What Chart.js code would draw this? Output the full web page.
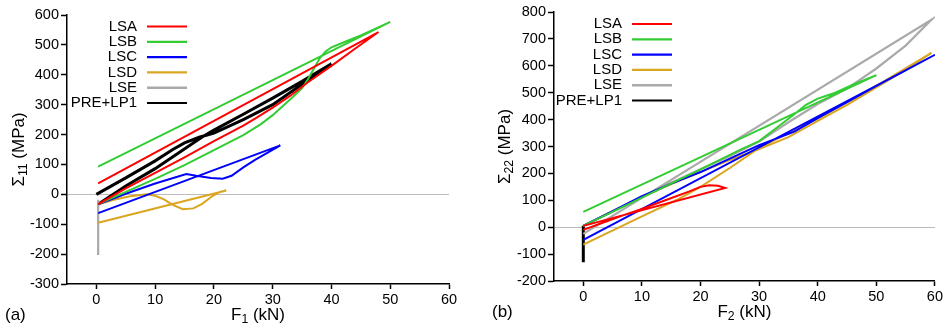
<!DOCTYPE html>
<html lang="en">
<head>
    <meta charset="UTF-8">
    <title>Sigma vs F</title>
    <script src="https://cdn.jsdelivr.net/npm/chart.js"></script>
    <style>
        body { margin: 0; background: #fff; }
        #wrap { position: relative; width: 945px; height: 330px; }
        canvas { position: absolute; top: 0; }
        #chartA { left: 0; }
        #chartB { left: 475px; }
    </style>
</head>
<body>
<div id="wrap">
    <canvas id="chartA" width="470" height="330"></canvas>
    <canvas id="chartB" width="470" height="330"></canvas>
</div>

<script type="text/javascript">
    // series names (shared by both panels)
    const seriesNames = ['LSA', 'LSB', 'LSC', 'LSD', 'LSE', 'PRE+LP1'];

    // tick labels
    const xTicks = [0, 10, 20, 30, 40, 50, 60];
    const yTicksA = [-300, -200, -100, 0, 100, 200, 300, 400, 500, 600];
    const yTicksB = [-200, -100, 0, 100, 200, 300, 400, 500, 600, 700, 800];

    // panel (a): F1 (kN) vs Sigma11 (MPa)
    const lsaF1 = [0.3, 5, 10, 15, 20, 25, 27, 30, 33, 36, 40, 44, 48, 0.3];
    const lsaS11 = [-33, 20, 72, 124, 178, 230, 253, 290, 330, 375, 430, 487, 543, 37];
    const lsbF1 = [0.3, 5, 10, 15, 20, 25, 28, 30, 33, 35, 36, 37, 38, 39, 40, 42, 45, 50, 0.3];
    const lsbS11 = [-33, 8, 52, 98, 148, 198, 235, 265, 318, 355, 385, 420, 455, 478, 492, 508, 532, 577, 93];
    const lscF1 = [0.3, 5, 10, 15.3, 17, 19.5, 21.5, 23, 25, 27, 29, 31.3, 0.3];
    const lscS11 = [-33, 2, 36, 68, 62, 55, 52, 62, 90, 115, 138, 164, -63];
    const lsdF1 = [0.3, 3, 5.5, 8.5, 10, 11.5, 13, 14.7, 16.5, 18, 19.8, 21, 22.1, 0.3];
    const lsdS11 = [-33, -18, -7, 0, -5, -17, -35, -50, -47, -32, -5, 8, 13, -95];
    const lseF1 = [0.3, 0.3];
    const lseS11 = [-18, -203];
    const preF1 = [0, 5, 10, 13, 15, 17.5, 20, 25, 30, 35, 40, 35, 30, 25, 20, 18, 10, 5, 0.3];
    const preS11 = [0, 55, 112, 150, 172, 191, 205, 250, 300, 368, 437, 378, 322, 268, 215, 192, 86, 28, -33];

    // panel (b): F2 (kN) vs Sigma22 (MPa)
    const lsaF2 = [0, 4, 7, 10, 14, 18, 20, 21.5, 23, 24.2, 0];
    const lsaS22 = [-10, 22, 46, 68, 100, 132, 150, 156, 154, 146, 5];
    const lsbF2 = [0, 10, 20, 27, 30, 33, 36, 38, 40, 43, 46, 50, 0];
    const lsbS22 = [5, 110, 215, 290, 320, 370, 420, 455, 478, 500, 530, 565, 57];
    const lscF2 = [0, 5, 10, 15, 20, 25, 30, 33, 36, 40, 45, 50, 55, 60, 0];
    const lscS22 = [5, 60, 115, 162, 205, 255, 305, 330, 355, 405, 465, 525, 583, 641, -47];
    const lsdF2 = [0, 5, 10, 15, 20, 25, 30, 35, 40, 45, 50, 55, 59.4, 50, 40, 35, 30, 25, 20, 16, 10, 0];
    const lsdS22 = [5, 60, 112, 160, 205, 250, 290, 335, 395, 455, 520, 585, 648, 525, 405, 350, 295, 220, 150, 102, 40, -65];
    const lseF2 = [0, 5, 10, 15, 20, 25, 30, 35, 40, 45, 50, 55, 59.4, 0];
    const lseS22 = [5, 58, 112, 165, 215, 265, 318, 390, 458, 515, 590, 675, 771, -25];
    const preF2 = [0, 0];
    const preS22 = [5, -130];

    const colors = ['#ff0000', '#33cc33', '#0000ff', '#daa520', '#aaaaaa', '#000000'];
    const widths = [2, 2, 2, 2, 2.2, 3];
    const FONT = '"Liberation Sans", Arial, Helvetica, sans-serif';

    function pts(xs, ys) {
        return xs.map((x, i) => ({x: x, y: ys[i]}));
    }

    function makeDatasets(series) {
        return series.map((s, i) => ({
            label: seriesNames[i],
            data: pts(s[0], s[1]),
            showLine: true,
            borderColor: colors[i],
            backgroundColor: colors[i],
            borderWidth: widths[i],
            pointRadius: 0,
            tension: 0
        }));
    }

    // draw text pieces with subscripts, centred on the origin
    function drawParts(ctx, parts, size) {
        let total = 0;
        parts.forEach(p => {
            ctx.font = (p.sub ? size * 0.72 : size) + 'px ' + FONT;
            p.w = ctx.measureText(p.t).width;
            total += p.w;
        });
        let x = -total / 2;
        parts.forEach(p => {
            ctx.font = (p.sub ? size * 0.72 : size) + 'px ' + FONT;
            ctx.fillText(p.t, x, p.sub ? size * 0.3 : 0);
            x += p.w;
        });
    }

    const decorations = {
        id: 'decorations',
        afterDraw(chart, args, opts) {
            const ctx = chart.ctx;
            const area = chart.chartArea;
            ctx.save();
            ctx.fillStyle = '#000';
            ctx.textBaseline = 'middle';

            // legend: label right-aligned, then a line sample
            ctx.font = '15px ' + FONT;
            seriesNames.forEach((name, i) => {
                const y = opts.legendTop + i * 15.3;
                ctx.textAlign = 'right';
                ctx.fillStyle = '#000';
                ctx.fillText(name, opts.legendX, y);
                ctx.strokeStyle = colors[i];
                ctx.lineWidth = i === 4 ? 2.6 : 2.2;
                ctx.beginPath();
                ctx.moveTo(opts.legendX + 10, y);
                ctx.lineTo(opts.legendX + 50, y);
                ctx.stroke();
            });

            // x title
            ctx.textAlign = 'left';
            ctx.save();
            ctx.translate((area.left + area.right) / 2, opts.xTitleY);
            drawParts(ctx, opts.xTitle, 17);
            ctx.restore();

            // y title (rotated)
            ctx.save();
            ctx.translate(opts.yTitleX, (area.top + area.bottom) / 2);
            ctx.rotate(-Math.PI / 2);
            drawParts(ctx, opts.yTitle, 17);
            ctx.restore();

            // panel tag
            ctx.font = '17px ' + FONT;
            ctx.fillText(opts.tag, opts.tagX, opts.xTitleY);
            ctx.restore();
        }
    };

    function makeChart(id, series, yMin, yMax, yTicks, yWidth, xHeight, pad, deco) {
        const ctx = document.getElementById(id).getContext('2d');
        return new Chart(ctx, {
            type: 'scatter',
            data: {datasets: makeDatasets(series)},
            options: {
                responsive: false,
                animation: false,
                devicePixelRatio: 1,
                layout: {padding: pad},
                plugins: {
                    legend: {display: false},
                    tooltip: {enabled: false},
                    decorations: deco
                },
                scales: {
                    x: {
                        type: 'linear',
                        min: -5,
                        max: 60,
                        afterBuildTicks: s => { s.ticks = xTicks.map(v => ({value: v})); },
                        afterFit: s => { s.height = xHeight; },
                        grid: {drawOnChartArea: false, tickLength: 5, tickColor: '#000', tickWidth: 1.5},
                        border: {display: true, color: '#000', width: 1.5},
                        ticks: {color: '#000', font: {size: 14.5, family: FONT}, padding: 2, maxRotation: 0, autoSkip: false}
                    },
                    y: {
                        type: 'linear',
                        min: yMin,
                        max: yMax,
                        afterBuildTicks: s => { s.ticks = yTicks.map(v => ({value: v})); },
                        afterFit: s => { s.width = yWidth; },
                        grid: {
                            drawOnChartArea: true,
                            color: c => (c.tick && c.tick.value === 0) ? '#bbbbbb' : 'rgba(0,0,0,0)',
                            tickLength: 6,
                            tickColor: '#000',
                            tickWidth: 1.5
                        },
                        border: {display: true, color: '#000', width: 1.5},
                        ticks: {color: '#000', font: {size: 14.5, family: FONT}, padding: 2, autoSkip: false}
                    }
                }
            },
            plugins: [decorations]
        });
    }

    makeChart('chartA',
        [[lsaF1, lsaS11], [lsbF1, lsbS11], [lscF1, lscS11], [lsdF1, lsdS11], [lseF1, lseS11], [preF1, preS11]],
        -300, 600, yTicksA, 67, 46, {left: 0, top: 15, right: 21, bottom: 0},
        {
            legendX: 137, legendTop: 26.5,
            xTitle: [{t: 'F'}, {t: '1', sub: true}, {t: ' (kN)'}], xTitleY: 315,
            yTitle: [{t: '\u03A3'}, {t: '11', sub: true}, {t: ' (MPa)'}], yTitleX: 19,
            tag: '(a)', tagX: 5
        });

    makeChart('chartB',
        [[lsaF2, lsaS22], [lsbF2, lsbS22], [lscF2, lscS22], [lsdF2, lsdS22], [lseF2, lseS22], [preF2, preS22]],
        -200, 800, yTicksB, 79, 49, {left: 0, top: 12, right: 10, bottom: 0},
        {
            legendX: 147, legendTop: 24,
            xTitle: [{t: 'F'}, {t: '2', sub: true}, {t: ' (kN)'}], xTitleY: 312,
            yTitle: [{t: '\u03A3'}, {t: '22', sub: true}, {t: ' (MPa)'}], yTitleX: 30,
            tag: '(b)', tagX: 17
        });
</script>
</body>
</html>
